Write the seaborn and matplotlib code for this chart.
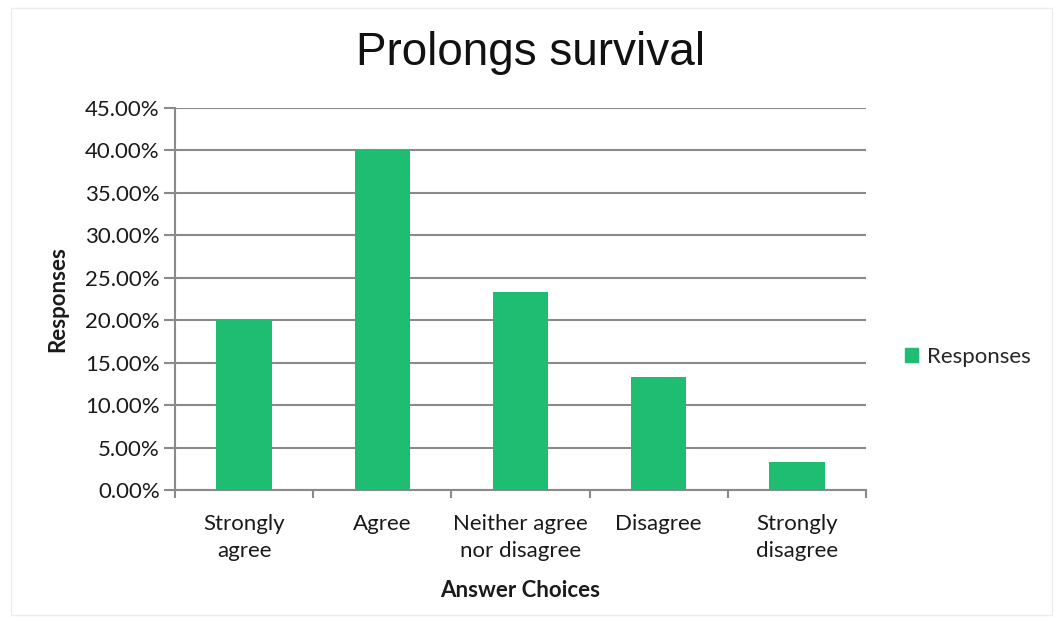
import matplotlib
matplotlib.use("Agg")
import matplotlib.pyplot as plt
import matplotlib.patches as mpatches
from matplotlib.ticker import FuncFormatter, FixedLocator, MultipleLocator
import seaborn as sns
import pandas as pd

# Survey results: share of responses per answer choice
categories = ["Strongly\nagree", "Agree", "Neither agree\nnor disagree", "Disagree", "Strongly\ndisagree"]
responses = [20.00, 40.00, 23.33, 13.33, 3.33]

df = pd.DataFrame({"Answer Choices": categories, "Responses": responses})

sns.set_theme(style="white")
plt.rcParams["font.family"] = ["Lato", "DejaVu Sans"]

BAR = "#1fbd71"
AXIS = "#8a8a8a"
TXT = "#1a1a1a"
FS = 16

fig = plt.figure(figsize=(10.58, 6.27), dpi=100)
ax = fig.add_axes([175 / 1058, 1 - 490 / 627, 691 / 1058, 382 / 627])

sns.barplot(data=df, x="Answer Choices", y="Responses", color=BAR,
            width=0.40, saturation=1, linewidth=0, edgecolor=BAR, ax=ax, zorder=3)

ax.set_ylim(0, 45)
ax.set_xlim(-0.5, len(categories) - 0.5)
ax.yaxis.set_major_locator(MultipleLocator(5))
ax.yaxis.set_major_formatter(FuncFormatter(lambda v, p: f"{v:.2f}%"))
ax.grid(axis="y", color=AXIS, linewidth=1.5, zorder=0)
ax.set_axisbelow(True)

for side in ("top", "right"):
    ax.spines[side].set_visible(False)
for side in ("left", "bottom"):
    ax.spines[side].set_color(AXIS)
    ax.spines[side].set_linewidth(1.5)

# category labels sit between the boundary ticks
ax.set_xticks(range(len(categories)))
ax.set_xticklabels(categories, fontsize=FS, color=TXT, linespacing=1.45)
ax.tick_params(axis="x", length=0, pad=17)
ax.xaxis.set_minor_locator(FixedLocator([i - 0.5 for i in range(len(categories) + 1)]))
ax.tick_params(axis="x", which="minor", direction="out", length=6, width=1.5, color=AXIS, bottom=True)
ax.tick_params(axis="y", direction="out", length=8, width=1.5, color=AXIS, left=True,
               labelsize=FS, labelcolor=TXT, pad=3)

ax.set_xlabel("Answer Choices", fontsize=FS, fontweight="bold", color=TXT, labelpad=14)
ax.set_ylabel("Responses", fontsize=FS, fontweight="bold", color=TXT, labelpad=12)

fig.text(531 / 1058, 1 - 53 / 627, "Prolongs survival", ha="center", va="center",
         fontsize=33, family=["Liberation Sans Narrow", "Liberation Sans", "DejaVu Sans"],
         color="#111111")

handle = mpatches.Patch(color=BAR, label="Responses")
fig.legend(handles=[handle], loc="center left", bbox_to_anchor=(905 / 1058, 1 - 357 / 627),
           frameon=False, fontsize=FS, handlelength=0.6, handleheight=0.6,
           handletextpad=0.4, borderaxespad=0, borderpad=0)

# faint outer frame
fig.patches.append(mpatches.Rectangle((11 / 1058, 12 / 627), 1041 / 1058, 607 / 627,
                                      transform=fig.transFigure, fill=False,
                                      edgecolor="#ececec", linewidth=1))

fig.savefig("out.png", dpi=100)
